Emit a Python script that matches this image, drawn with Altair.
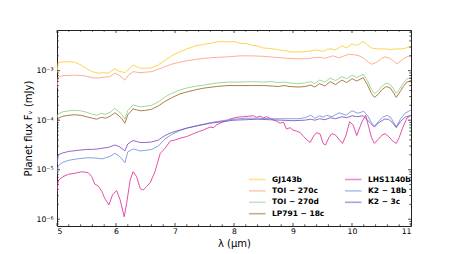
import altair as alt
import numpy as np
import pandas as pd

# ---------------- data (wavelength in micron, log10 of planet flux in mJy) ----------------
gj143b_x = [5.0, 5.02, 5.1, 5.2, 5.3, 5.4, 5.5, 5.6, 5.7, 5.8, 5.87, 5.98, 6.05, 6.15, 6.22, 6.29, 6.35,
            6.41, 6.5, 6.6, 6.72, 6.83, 6.94, 7.08, 7.2, 7.3, 7.37, 7.45, 7.52, 7.6, 7.7, 7.8, 7.93, 8.0,
            8.1, 8.2, 8.32, 8.4, 8.49, 8.6, 8.72, 8.8, 8.89, 8.95, 9.05, 9.17, 9.3, 9.4, 9.51, 9.58, 9.63,
            9.72, 9.83, 9.91, 10.0, 10.08, 10.19, 10.26, 10.33, 10.42, 10.55, 10.64, 10.75, 10.85, 10.92, 11.0]
gj143b_y = [-3.05, -2.84, -2.82, -2.82, -2.83, -2.88, -2.96, -3.02, -3.05, -3.04, -3.05, -2.96, -3.01, -3.04,
            -2.97, -2.89, -2.92, -2.95, -2.95, -2.94, -2.88, -2.79, -2.70, -2.62, -2.56, -2.52, -2.49, -2.48,
            -2.46, -2.45, -2.42, -2.41, -2.42, -2.41, -2.45, -2.45, -2.49, -2.50, -2.54, -2.55, -2.57, -2.59,
            -2.60, -2.62, -2.62, -2.62, -2.60, -2.58, -2.61, -2.57, -2.56, -2.58, -2.50, -2.54, -2.46, -2.49,
            -2.41, -2.48, -2.54, -2.56, -2.56, -2.57, -2.56, -2.56, -2.54, -2.51]

toi270c_x = [5.0, 5.02, 5.1, 5.3, 5.45, 5.6, 5.7, 5.8, 5.9, 5.98, 6.05, 6.15, 6.22, 6.29, 6.35, 6.41, 6.5,
             6.6, 6.72, 6.83, 6.94, 7.08, 7.2, 7.37, 7.5, 7.7, 7.9, 8.1, 8.3, 8.5, 8.7, 8.9, 9.1, 9.25, 9.35,
             9.45, 9.55, 9.67, 9.78, 9.94, 10.05, 10.12, 10.2, 10.27, 10.33, 10.42, 10.5, 10.56, 10.64, 10.7,
             10.76, 10.82, 10.88, 10.95, 11.0]
toi270c_y = [-3.35, -3.13, -3.10, -3.09, -3.10, -3.14, -3.15, -3.13, -3.12, -3.05, -3.09, -3.19, -3.08, -3.02,
             -3.03, -3.04, -3.03, -3.02, -2.97, -2.92, -2.87, -2.83, -2.80, -2.77, -2.75, -2.73, -2.72, -2.70,
             -2.70, -2.71, -2.73, -2.75, -2.76, -2.76, -2.74, -2.73, -2.75, -2.70, -2.74, -2.67, -2.68, -2.70,
             -2.75, -2.82, -2.87, -2.83, -2.75, -2.72, -2.75, -2.80, -2.86, -2.81, -2.75, -2.71, -2.70]

toi270d_x = [5.0, 5.02, 5.1, 5.2, 5.3, 5.4, 5.5, 5.6, 5.67, 5.75, 5.82, 5.9, 5.98, 6.05, 6.1, 6.15, 6.2, 6.29,
             6.35, 6.41, 6.5, 6.6, 6.72, 6.83, 6.94, 7.08, 7.2, 7.37, 7.5, 7.7, 7.9, 8.1, 8.3, 8.5, 8.65, 8.75,
             8.85, 8.95, 9.1, 9.2, 9.3, 9.37, 9.45, 9.54, 9.63, 9.72, 9.83, 9.91, 10.0, 10.08, 10.19, 10.26,
             10.33, 10.38, 10.45, 10.5, 10.58, 10.65, 10.7, 10.75, 10.8, 10.87, 10.93, 11.0]
toi270d_y = [-3.95, -3.87, -3.83, -3.81, -3.80, -3.81, -3.84, -3.88, -3.90, -3.86, -3.88, -3.84, -3.76, -3.83,
             -3.88, -3.98, -3.80, -3.69, -3.71, -3.73, -3.72, -3.70, -3.63, -3.53, -3.46, -3.39, -3.35, -3.31,
             -3.29, -3.25, -3.23, -3.23, -3.22, -3.23, -3.22, -3.24, -3.23, -3.25, -3.26, -3.25, -3.22, -3.26,
             -3.19, -3.23, -3.15, -3.20, -3.12, -3.16, -3.09, -3.14, -3.07, -3.20, -3.38, -3.46, -3.40, -3.32,
             -3.25, -3.28, -3.36, -3.46, -3.38, -3.25, -3.17, -3.13]

lp79118c_x = toi270d_x
lp79118c_y = [-4.05, -3.96, -3.92, -3.90, -3.89, -3.90, -3.93, -3.96, -3.98, -3.94, -3.96, -3.92, -3.85, -3.91,
              -3.97, -4.06, -3.89, -3.77, -3.79, -3.81, -3.80, -3.78, -3.71, -3.62, -3.55, -3.47, -3.43, -3.38,
              -3.35, -3.32, -3.30, -3.30, -3.30, -3.30, -3.31, -3.32, -3.30, -3.32, -3.33, -3.32, -3.29, -3.33,
              -3.26, -3.31, -3.22, -3.28, -3.19, -3.24, -3.16, -3.21, -3.14, -3.28, -3.46, -3.54, -3.47, -3.39,
              -3.32, -3.35, -3.44, -3.54, -3.45, -3.32, -3.23, -3.20]

lhs1140b_x = [5.0, 5.02, 5.1, 5.2, 5.31, 5.42, 5.53, 5.59, 5.64, 5.70, 5.76, 5.81, 5.88, 5.94, 6.01, 6.07,
              6.14, 6.18, 6.24, 6.29, 6.35, 6.41, 6.46, 6.52, 6.58, 6.66, 6.75, 6.83, 6.92, 7.0, 7.1, 7.2, 7.3,
              7.4, 7.48, 7.55, 7.6, 7.65, 7.7, 7.76, 7.85, 7.95, 8.05, 8.15, 8.25, 8.33, 8.38, 8.44, 8.5, 8.55,
              8.61, 8.67, 8.72, 8.78, 8.84, 8.89, 8.95, 9.0, 9.06, 9.12, 9.18, 9.24, 9.29, 9.35, 9.4, 9.46,
              9.51, 9.55, 9.61, 9.66, 9.72, 9.79, 9.84, 9.9, 9.96, 10.02, 10.08, 10.13, 10.17, 10.23, 10.28,
              10.33, 10.38, 10.45, 10.51, 10.56, 10.62, 10.69, 10.75, 10.8, 10.86, 10.93, 11.0]
lhs1140b_y = [-5.45, -5.22, -5.14, -5.09, -5.07, -5.04, -5.06, -5.14, -5.29, -5.33, -5.44, -5.58, -5.71, -5.51,
              -5.42, -5.61, -5.95, -5.68, -5.21, -5.04, -5.14, -5.38, -5.41, -5.34, -5.26, -5.04, -4.67, -4.57,
              -4.42, -4.40, -4.36, -4.33, -4.28, -4.23, -4.20, -4.16, -4.14, -4.15, -4.10, -4.06, -4.02, -3.97,
              -3.94, -3.93, -3.92, -3.91, -3.94, -3.92, -3.95, -3.93, -3.96, -4.00, -4.02, -4.06, -4.04, -4.18,
              -4.15, -4.20, -4.22, -4.25, -4.33, -4.40, -4.45, -4.32, -4.25, -4.28, -4.47, -4.50, -4.35, -4.27,
              -4.30, -4.40, -4.47, -4.30, -4.03, -4.10, -4.31, -4.15, -4.03, -3.90, -4.12, -4.35, -4.47, -4.38,
              -4.30, -4.27, -4.33, -4.42, -4.47, -4.35, -4.15, -3.96, -3.90]

k218b_x = [5.0, 5.02, 5.1, 5.2, 5.35, 5.5, 5.6, 5.7, 5.77, 5.82, 5.9, 5.98, 6.05, 6.1, 6.15, 6.2, 6.29, 6.35,
           6.41, 6.5, 6.6, 6.72, 6.83, 6.94, 7.08, 7.2, 7.4, 7.6, 7.8, 8.0, 8.2, 8.4, 8.6, 8.8, 9.0, 9.1, 9.2,
           9.3, 9.37, 9.45, 9.51, 9.57, 9.66, 9.78, 9.9, 10.0, 10.1, 10.2, 10.27, 10.33, 10.38, 10.45, 10.52,
           10.6, 10.66, 10.7, 10.75, 10.82, 10.9, 11.0]
k218b_y = [-5.10, -4.92, -4.85, -4.81, -4.78, -4.76, -4.76, -4.77, -4.78, -4.76, -4.73, -4.67, -4.72, -4.78,
           -4.86, -4.64, -4.58, -4.60, -4.62, -4.61, -4.59, -4.52, -4.38, -4.29, -4.21, -4.16, -4.10, -4.05,
           -4.01, -3.98, -3.96, -3.96, -3.97, -3.97, -3.97, -3.97, -3.95, -3.90, -3.96, -3.91, -3.94, -3.90,
           -3.93, -3.85, -3.90, -3.81, -3.86, -3.82, -3.92, -4.05, -4.12, -4.02, -3.94, -3.90, -3.95, -4.03,
           -4.13, -3.98, -3.86, -3.79]

k23c_x = [5.0, 5.02, 5.1, 5.2, 5.35, 5.5, 5.6, 5.7, 5.8, 5.87, 5.98, 6.05, 6.1, 6.15, 6.2, 6.29, 6.35, 6.41,
          6.5, 6.6, 6.72, 6.83, 6.94, 7.08, 7.2, 7.4, 7.6, 7.8, 8.0, 8.2, 8.4, 8.6, 8.8, 9.0, 9.2, 9.3, 9.37,
          9.45, 9.54, 9.63, 9.72, 9.83, 9.91, 10.0, 10.08, 10.19, 10.28, 10.38, 10.45, 10.55, 10.62, 10.68,
          10.75, 10.82, 10.9, 11.0]
k23c_y = [-4.90, -4.70, -4.66, -4.63, -4.61, -4.59, -4.59, -4.58, -4.56, -4.55, -4.50, -4.53, -4.57, -4.62,
          -4.48, -4.41, -4.43, -4.45, -4.45, -4.44, -4.40, -4.31, -4.25, -4.20, -4.16, -4.11, -4.06, -4.03,
          -4.00, -3.99, -3.98, -3.99, -4.00, -4.01, -4.00, -3.98, -4.00, -3.97, -3.99, -3.95, -3.97, -3.93,
          -3.95, -3.91, -3.93, -3.91, -4.02, -4.14, -4.05, -3.98, -3.98, -4.04, -4.15, -4.03, -3.94, -3.90]

names = ["GJ143b", "TOI − 270c", "TOI − 270d", "LP791 − 18c", "LHS1140b", "K2 − 18b", "K2 − 3c"]
colors = ["#ffcc33", "#ff9f80", "#8fd18a", "#a0672a", "#e0309a", "#6f93d6", "#7b4fc0"]
series = [(gj143b_x, gj143b_y), (toi270c_x, toi270c_y), (toi270d_x, toi270d_y), (lp79118c_x, lp79118c_y),
          (lhs1140b_x, lhs1140b_y), (k218b_x, k218b_y), (k23c_x, k23c_y)]

x_major = [5, 6, 7, 8, 9, 10, 11]
y_major = [1e-6, 1e-5, 1e-4, 1e-3]
y_labels = ["10⁻⁶", "10⁻⁵", "10⁻⁴", "10⁻³"]

# ---------------- build tables ----------------
rows = []
for name, (xs, ys) in zip(names, series):
    for xv, yv in zip(xs, ys):
        rows.append({"wl": xv, "flux": 10.0 ** yv, "planet": name})
df = pd.DataFrame(rows)

W, H = 354, 196
XDOM = [5, 11]
YDOM = [10 ** -6.137, 10 ** -2.178]
xs_scale = alt.Scale(domain=XDOM, nice=False, zero=False)
ys_scale = alt.Scale(type="log", domain=YDOM, nice=False)

x_minor = [round(5 + 0.2 * i, 1) for i in range(31) if (i % 5) != 0]
y_minor = []
for e in range(-7, -2):
    for k in range(2, 10):
        v = k * 10.0 ** e
        if YDOM[0] <= v <= YDOM[1]:
            y_minor.append(v)

label_expr = ("datum.value < 3e-6 ? '%s' : datum.value < 3e-5 ? '%s' : datum.value < 3e-4 ? '%s' : '%s'"
              % tuple(y_labels))

x_axis = alt.Axis(values=x_major, format="d", title="λ (μm)", ticks=False, domain=False, grid=False,
                  labelPadding=1, labelFontSize=7.7, labelFont="DejaVu Sans", labelColor="#000",
                  titleFont="DejaVu Sans", titleFontSize=10, titleFontWeight="normal",
                  titleColor="#000", titlePadding=4)
y_axis = alt.Axis(values=y_major, labelExpr=label_expr, title="Planet flux Fᵥ (mJy)", ticks=False,
                  domain=False, grid=False, labelPadding=4, labelFontSize=7.7,
                  labelFont="DejaVu Sans", labelColor="#000", titleFont="DejaVu Sans",
                  titleFontSize=10, titleFontWeight="normal", titleColor="#000", titlePadding=3)

lines = alt.Chart(df).mark_line(strokeWidth=1.0, opacity=0.85, clip=True).encode(
    x=alt.X("wl:Q", scale=xs_scale, axis=x_axis),
    y=alt.Y("flux:Q", scale=ys_scale, axis=y_axis),
    color=alt.Color("planet:N", scale=alt.Scale(domain=names, range=colors),
                    legend=alt.Legend(title=None, orient="none", legendX=193.75, legendY=143.0, columns=2,
                                      symbolType="M-1.5,0L1.5,0", symbolSize=121, symbolStrokeWidth=1.6,
                                      symbolOpacity=0.55, labelOffset=8.25, labelFont="DejaVu Sans",
                                      labelFontWeight="bold", labelFontSize=7.5, labelColor="#000",
                                      rowPadding=1.4, columnPadding=17, padding=0)),
    detail="planet:N",
)


def xticks(vals, y0, y1):
    d = pd.DataFrame({"wl": vals})
    return alt.Chart(d).mark_rule(color="#222", strokeWidth=0.8).encode(
        x=alt.X("wl:Q", scale=xs_scale, axis=x_axis), y=alt.value(y0), y2=alt.value(y1))


def yticks(vals, x0, x1):
    d = pd.DataFrame({"flux": vals})
    return alt.Chart(d).mark_rule(color="#222", strokeWidth=0.8).encode(
        y=alt.Y("flux:Q", scale=ys_scale, axis=y_axis), x=alt.value(x0), x2=alt.value(x1))


MAJ, MIN = 3.0, 1.7
ticks = [
    xticks(x_major, H, H - MAJ), xticks(x_minor, H, H - MIN),
    xticks(x_major, 0, MAJ), xticks(x_minor, 0, MIN),
    yticks(y_major, 0, MAJ), yticks(y_minor, 0, MIN),
    yticks(y_major, W, W - MAJ), yticks(y_minor, W, W - MIN),
]

chart = alt.layer(lines, *ticks).properties(
    width=W, height=H,
    background="white",
    autosize=alt.AutoSizeParams(type="none"),
    padding={"left": 49, "top": 22, "right": 30, "bottom": 24},
).configure_view(stroke="#222", strokeWidth=1)

chart.save("out.html", embed_options={"renderer": "svg", "actions": False})
